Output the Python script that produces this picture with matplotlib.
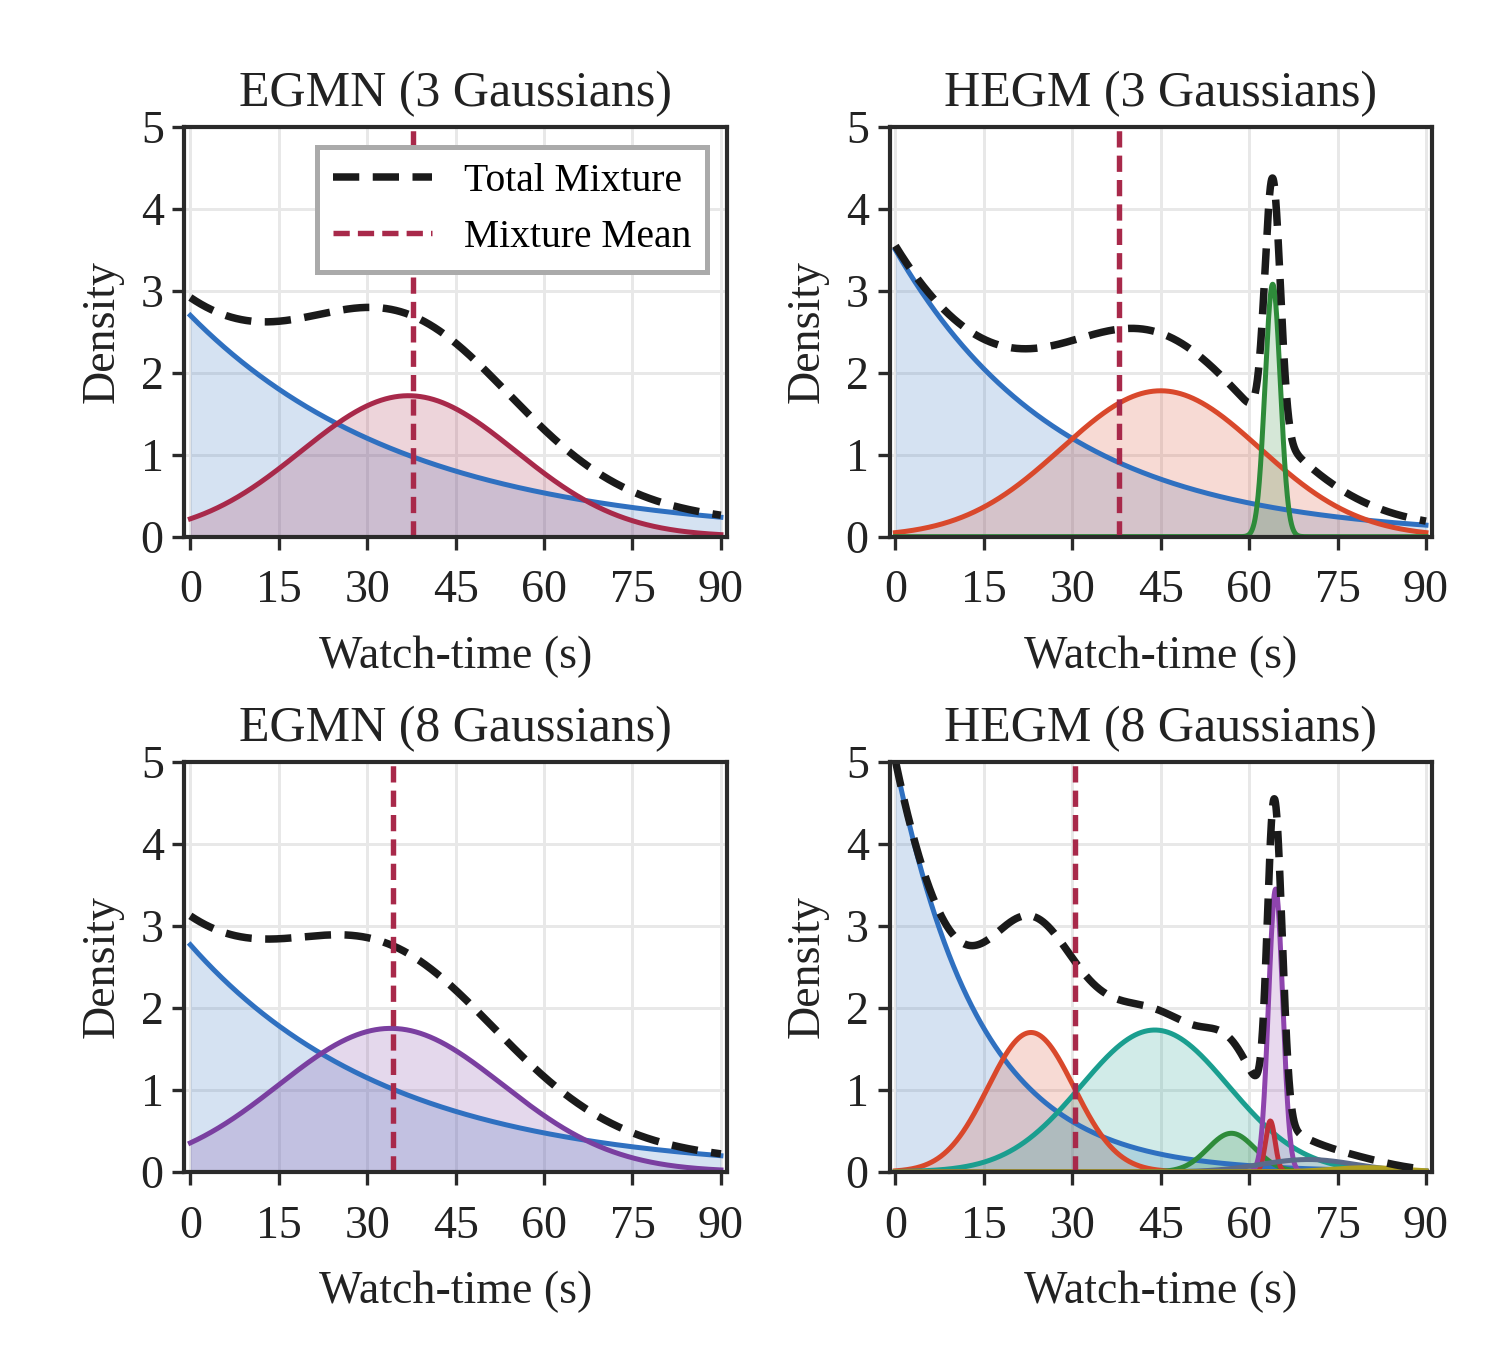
import numpy as np
import matplotlib
matplotlib.use("Agg")
import matplotlib.pyplot as plt

plt.rcParams['font.family'] = ['Liberation Serif', 'DejaVu Serif']
plt.rcParams['font.size'] = 11

titles = ["EGMN (3 Gaussians)", "HEGM (3 Gaussians)", "EGMN (8 Gaussians)", "HEGM (8 Gaussians)"]
# exponential head component: amplitude, decay scale
exp_amp = [2.7, 3.5, 2.77, 5.0]
exp_scale = [37, 28, 34, 14.3]
# gaussian components per panel: peak, mean, std, color
g_peaks = [[1.72], [1.78, 3.08], [1.75], [1.7, 1.73, 0.47, 0.62, 3.45, 0.15, 0.05]]
g_means = [[37], [45, 64], [34], [23, 44, 57, 63.6, 64.5, 70, 80]]
g_stds = [[18.2], [16.8, 1.3], [19], [7.3, 12.5, 4, 0.8, 1.2, 8, 6]]
g_colors = [["#a8294a"], ["#d9482b", "#2e8b3a"], ["#7a3fa0"],
            ["#d9482b", "#1a9e8f", "#2e8b3a", "#c0303a", "#8e44ad", "#5a6a8a", "#b0a020"]]
mix_means = [37.8, 38.0, 34.3, 30.5]
blue = "#2f70c0"
mean_col = "#a8294a"

x = np.linspace(0, 90, 6000)
fig, axes = plt.subplots(2, 2, figsize=(5.04, 4.5), dpi=300)
for i, ax in enumerate(axes.flat):
    b = exp_amp[i] * np.exp(-x / exp_scale[i])
    total = b.copy()
    ax.fill_between(x, 0, b, color=blue, alpha=0.2, lw=0)
    ax.plot(x, b, color=blue, lw=1.2)
    for p, m, s, c in zip(g_peaks[i], g_means[i], g_stds[i], g_colors[i]):
        g = p * np.exp(-(x - m) ** 2 / (2 * s ** 2))
        total += g
        ax.fill_between(x, 0, g, color=c, alpha=0.2, lw=0)
        ax.plot(x, g, color=c, lw=1.2)
    ax.plot(x, total, color="#1a1a1a", lw=1.8, ls=(0, (3.5, 1.8)), label="Total Mixture")
    ax.axvline(mix_means[i], color=mean_col, lw=1.3, ls=(0, (3, 1.5)), label="Mixture Mean")
    ax.set_xlim(-1, 91)
    ax.set_ylim(0, 5)
    ax.set_xticks([0, 15, 30, 45, 60, 75, 90])
    ax.set_yticks([0, 1, 2, 3, 4, 5])
    ax.grid(True, color="#e8e8e8", lw=0.7)
    ax.set_axisbelow(True)
    for sp in ax.spines.values():
        sp.set_color("#2a2a2a"); sp.set_linewidth(1.0)
    ax.tick_params(direction="out", length=3, width=0.8, colors="#2a2a2a", labelcolor="#222222", pad=2)
    ax.tick_params(axis="x", pad=5)
    ax.set_title(titles[i], fontsize=12, pad=5, color="#222222")
    ax.set_xlabel("Watch-time (s)", fontsize=11, color="#222222", labelpad=5.5)
    ax.set_ylabel("Density", fontsize=11, color="#222222", labelpad=4)
    if i == 0:
        leg = ax.legend(loc="upper right", fontsize=9.5, fancybox=False, framealpha=1, edgecolor="#aaaaaa",
                        handlelength=2.5)
        leg.get_frame().set_linewidth(1.2)

fig.subplots_adjust(left=0.122, right=0.947, top=0.906, bottom=0.132, wspace=0.30, hspace=0.55)
fig.savefig("out.png", dpi=300)
